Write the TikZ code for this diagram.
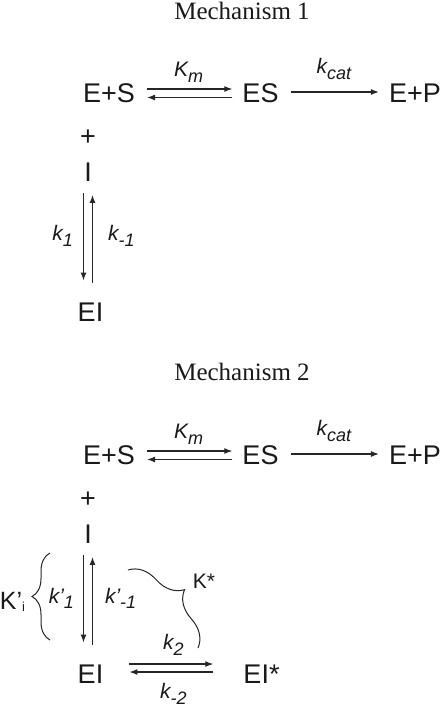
\documentclass[tikz,border=0pt]{standalone}
\usepackage{fontspec}
\setmainfont{Liberation Serif}
\setsansfont{Liberation Sans}
\newcommand{\lo}[1]{\raisebox{-0.27em}{\fontsize{18}{18}\selectfont #1}}
\tikzstyle{species}=[inner sep=0pt,text=black!90,font=\sffamily\fontsize{27}{27}\selectfont]
\tikzstyle{rate}=[inner sep=0pt,text=black!90,font=\sffamily\itshape\fontsize{21}{21}\selectfont]
\tikzstyle{const}=[inner sep=0pt,text=black!90,font=\sffamily\fontsize{25}{25}\selectfont]
\tikzstyle{heading}=[inner sep=0pt,text=black!90,font=\fontsize{25}{25}\selectfont]
\tikzstyle{rxn}=[-{Latex[length=8pt,width=6pt]},line width=1.1pt,draw=black!85]
\tikzstyle{brace}=[decorate,line width=1pt,draw=black!85]
\usetikzlibrary{arrows.meta,positioning,decorations.pathreplacing}

\begin{document}
\begin{tikzpicture}[x=1pt,y=1pt,node distance=152pt]
            \useasboundingbox (0,0) rectangle (445,-708);

            % MECHANISM 1

            \node[heading] (title1) at (242,-10.5) {Mechanism 1};
            \node[species] (es1) at (109,-93.5) {E+S};
            \node[species,right of=es1,node distance=151.5pt] (c1) {ES};
            \node[species,right of=c1,node distance=154.5pt] (ep1) {E+P};
            \node[species,below of=es1,node distance=44.5pt,xshift=-21pt] (plus1) {+};
            \node[species,below of=plus1,node distance=34.5pt] (i1) {I};
            \node[species,below of=i1,node distance=139.5pt,xshift=2.5pt] (ei1) {EI};

            \path ([yshift=4.5pt]es1.east) edge[rxn,shorten <=12pt,shorten >=10pt] node[rate,above=6pt] {K\lo{m}} ([yshift=4.5pt]c1.west);
            \path ([yshift=-4pt]c1.west) edge[rxn,shorten <=10pt,shorten >=12pt] ([yshift=-4pt]es1.east);
            \path ([yshift=1.5pt]c1.east) edge[rxn,shorten <=12pt,shorten >=10pt] node[rate,above=12pt] {k\lo{cat}} ([yshift=1.5pt]ep1.west);
            \path ([xshift=-4.5pt]i1.south) edge[rxn,shorten <=11pt,shorten >=22pt] node[rate,pos=0.45,left=10pt] {k\lo{1}} ([xshift=-4.5pt]i1.south |- ei1.north);
            \path ([xshift=4.5pt]i1.south |- ei1.north) edge[rxn,shorten <=20pt,shorten >=13pt] node[rate,pos=0.55,right=15pt] {k\lo{-1}} ([xshift=4.5pt]i1.south);

            % MECHANISM 2

            \node[heading,below of=title1,node distance=361.5pt] (title2) {Mechanism 2};
            \node[species,below of=es1,node distance=362pt] (es2) {E+S};
            \node[species,right of=es2,node distance=151.5pt] (c2) {ES};
            \node[species,right of=c2,node distance=154.5pt] (ep2) {E+P};
            \node[species,below of=es2,node distance=44.5pt,xshift=-21pt] (plus2) {+};
            \node[species,below of=plus2,node distance=34.5pt] (i2) {I};
            \node[species,below of=i2,node distance=139.5pt,xshift=2.5pt] (ei2) {EI};
            \node[species,right of=ei2,node distance=171pt] (eis2) {EI*};

            \path ([yshift=4.5pt]es2.east) edge[rxn,shorten <=12pt,shorten >=10pt] node[rate,above=6pt] {K\lo{m}} ([yshift=4.5pt]c2.west);
            \path ([yshift=-4pt]c2.west) edge[rxn,shorten <=10pt,shorten >=12pt] ([yshift=-4pt]es2.east);
            \path ([yshift=1.5pt]c2.east) edge[rxn,shorten <=12pt,shorten >=10pt] node[rate,above=12pt] {k\lo{cat}} ([yshift=1.5pt]ep2.west);
            \path ([xshift=-4.5pt]i2.south) edge[rxn,shorten <=11pt,shorten >=22pt] node[rate,pos=0.45,left=9pt] {k’\lo{1}} ([xshift=-4.5pt]i2.south |- ei2.north);
            \path ([xshift=4.5pt]i2.south |- ei2.north) edge[rxn,shorten <=20pt,shorten >=13pt] node[rate,pos=0.55,right=12pt] {k’\lo{-1}} ([xshift=4.5pt]i2.south);
            \path ([yshift=10pt]ei2.east) edge[rxn,shorten <=26pt,shorten >=30pt] node[rate,above=8pt] {k\lo{2}} ([yshift=10pt]eis2.west);
            \path ([yshift=2pt]eis2.west) edge[rxn,shorten <=30pt,shorten >=26pt] node[rate,below=11pt] {k\lo{-2}} ([yshift=2pt]ei2.east);

            % Equilibrium constants

            \draw[brace,decoration={brace,amplitude=18pt}] (50,-640) -- (50,-553);
            \node[const] (ki) at (12.5,-602) {K’\raisebox{-2pt}{\fontsize{13}{13}\selectfont i}};
            \draw[brace,decoration={brace,amplitude=29pt}] (128,-570) -- (198,-648);
            \node[const,font=\sffamily\fontsize{21}{21}\selectfont] (kstar) at (204,-581) {K*};

\end{tikzpicture}
\end{document}
